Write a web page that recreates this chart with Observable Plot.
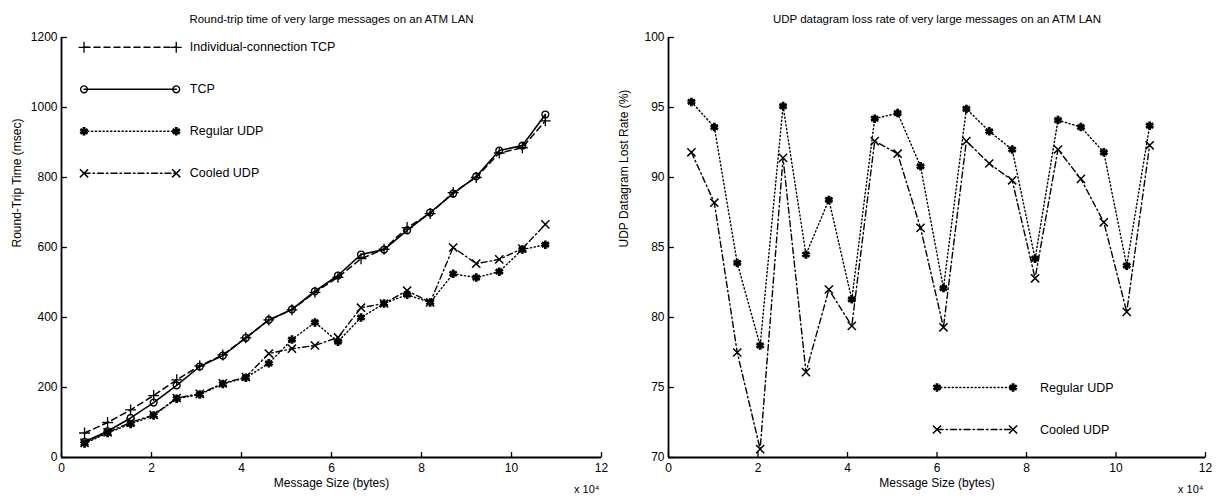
<!DOCTYPE html>
<html><head><meta charset="utf-8">
<script src="https://cdn.jsdelivr.net/npm/d3@7"></script>
<script src="https://cdn.jsdelivr.net/npm/@observablehq/plot@0.6"></script>
<style>
body{margin:0;background:#fff;font-family:"Liberation Sans",Arial,sans-serif;}
#wrap{position:relative;width:1219px;height:500px;overflow:hidden;}
.panel{position:absolute;top:0;}
svg{font-family:"Liberation Sans",Arial,sans-serif;}
</style></head><body><div id="wrap"><div class="panel" id="left" style="left:0"></div><div class="panel" id="right" style="left:609px"></div></div>
<script>
// message sizes (x 10^4 bytes)
const sizes = [0.512, 1.024, 1.536, 2.048, 2.56, 3.072, 3.584, 4.096, 4.608, 5.12, 5.632, 6.144, 6.656, 7.168, 7.68, 8.192, 8.704, 9.216, 9.728, 10.24, 10.752];
// Round-trip time (msec)
const rttIndividualTCP = [70, 100, 136, 177, 222, 262, 293, 342, 393, 422, 472, 515, 568, 595, 657, 697, 757, 800, 870, 885, 962];
const rttTCP = [45, 75, 113, 157, 206, 260, 291, 342, 393, 423, 475, 520, 580, 594, 649, 700, 754, 803, 877, 891, 980];
const rttRegularUDP = [40, 70, 96, 120, 168, 180, 210, 228, 269, 337, 386, 331, 400, 440, 465, 443, 525, 514, 531, 594, 608];
const rttCooledUDP = [42, 72, 100, 122, 170, 182, 212, 230, 297, 311, 320, 343, 428, 440, 477, 443, 600, 554, 566, 597, 666];
// UDP datagram loss rate (%)
const lossRegularUDP = [95.4, 93.6, 83.9, 78.0, 95.1, 84.5, 88.4, 81.3, 94.2, 94.6, 90.8, 82.1, 94.9, 93.3, 92.0, 84.2, 94.1, 93.6, 91.8, 83.7, 93.7];
const lossCooledUDP = [91.8, 88.2, 77.5, 70.6, 91.4, 76.1, 82.0, 79.4, 92.6, 91.7, 86.4, 79.3, 92.6, 91.0, 89.8, 82.8, 92.0, 89.9, 86.8, 80.4, 92.3];
// ticks
const xTicks = [0, 2, 4, 6, 8, 10, 12];
const yTicksRTT = [0, 200, 400, 600, 800, 1000, 1200];
const yTicksLoss = [70, 75, 80, 85, 90, 95, 100];
// labels
const titleRTT = "Round-trip time of very large messages on an ATM LAN";
const titleLoss = "UDP datagram loss rate of very large messages on an ATM LAN";
const xLabel = "Message Size (bytes)";
const yLabelRTT = "Round-Trip Time (msec)";
const yLabelLoss = "UDP Datagram Lost Rate (%)";
const xExponent = "x 10\u2074";

const styles = {
  "Individual-connection TCP": {dash: "6,4", symbol: "plus", r: 3.6, sw: 1.3, fill: "none"},
  "TCP": {dash: null, symbol: "circle", r: 3.4, sw: 1.4, fill: "none"},
  "Regular UDP": {dash: "1.2,2.6", symbol: "asterisk", r: 4, sw: 2.8, fill: "none"},
  "Cooled UDP": {dash: "6,3,1.5,3", symbol: "times", r: 3.8, sw: 1.5, fill: "none"}
};

function seriesMarks(name, values, lineW) {
  const s = styles[name];
  const d = sizes.map((x, i) => ({x, y: values[i]}));
  return [
    Plot.line(d, {x: "x", y: "y", stroke: "black", strokeWidth: lineW, strokeDasharray: s.dash}),
    Plot.dot(d, {x: "x", y: "y", symbol: () => s.symbol, r: s.r, stroke: "black", strokeWidth: s.sw, fill: s.fill})
  ];
}

function legendMarks(names, rowY, x1, x2, xt, lineW) {
  const out = [];
  names.forEach((name, i) => {
    const s = styles[name];
    const y = rowY(i);
    const seg = [{x: x1, y}, {x: x2, y}];
    out.push(Plot.line(seg, {x: "x", y: "y", stroke: "black", strokeWidth: lineW, strokeDasharray: s.dash}));
    out.push(Plot.dot(seg, {x: "x", y: "y", symbol: () => s.symbol, r: s.r, stroke: "black", strokeWidth: s.sw, fill: s.fill}));
    out.push(Plot.text([name], {x: xt, y, textAnchor: "start", fontSize: 12.5, fill: "black"}));
  });
  return out;
}

function frameAxes(xDomain, yDomain, yTicks, title, yLabel) {
  const xLen = (xDomain[1] - xDomain[0]) * 0.01;
  const yLen = (yDomain[1] - yDomain[0]) * 0.013;
  return [
    Plot.axisX({ticks: xTicks, tickSize: 0, tickPadding: 6, fontSize: 12, label: null, tickFormat: "d"}),
    Plot.axisY({ticks: yTicks, tickSize: 0, tickPadding: 4, fontSize: 12, label: null, tickFormat: "d"}),
    Plot.link(xTicks, {x1: d => d, x2: d => d, y1: yDomain[0], y2: yDomain[0] + yLen, stroke: "black", strokeWidth: 1.3}),
    Plot.link(yTicks, {y1: d => d, y2: d => d, x1: xDomain[0], x2: xDomain[0] + xLen, stroke: "black", strokeWidth: 1.3}),
    Plot.ruleX([xDomain[0]], {stroke: "black", strokeWidth: 1.8}),
    Plot.ruleY([yDomain[0]], {stroke: "black", strokeWidth: 1.8}),
    Plot.text([title], {frameAnchor: "top", dy: -23, fontSize: 11.5, fill: "black"}),
    Plot.text([xLabel], {frameAnchor: "bottom", dy: 29, fontSize: 12, fill: "black"}),
    Plot.text([xExponent], {frameAnchor: "bottom-right", dy: 35, dx: -2, textAnchor: "end", fontSize: 11, fill: "black"}),
    Plot.text([yLabel], {frameAnchor: "left", rotate: -90, dx: -44, fontSize: 12, fill: "black"})
  ];
}

const left = Plot.plot({
  width: 609, height: 500,
  marginLeft: 61, marginRight: 8, marginTop: 37, marginBottom: 43,
  x: {domain: [0, 12]},
  y: {domain: [0, 1200]},
  marks: [
    ...frameAxes([0, 12], [0, 1200], yTicksRTT, titleRTT, yLabelRTT),
    ...seriesMarks("Individual-connection TCP", rttIndividualTCP, 1.5),
    ...seriesMarks("TCP", rttTCP, 1.6),
    ...seriesMarks("Regular UDP", rttRegularUDP, 1.4),
    ...seriesMarks("Cooled UDP", rttCooledUDP, 1.4),
    ...legendMarks(["Individual-connection TCP", "TCP", "Regular UDP", "Cooled UDP"], i => 1172 - i * 120, 0.5, 2.55, 2.85, 1.5)
  ]
});
document.getElementById("left").appendChild(left);

const right = Plot.plot({
  width: 610, height: 500,
  marginLeft: 59, marginRight: 14, marginTop: 37, marginBottom: 43,
  x: {domain: [0, 12]},
  y: {domain: [70, 100]},
  marks: [
    ...frameAxes([0, 12], [70, 100], yTicksLoss, titleLoss, yLabelLoss),
    ...seriesMarks("Regular UDP", lossRegularUDP, 1.4),
    ...seriesMarks("Cooled UDP", lossCooledUDP, 1.4),
    ...legendMarks(["Regular UDP", "Cooled UDP"], i => 75 - i * 3, 6.0, 7.7, 8.3, 1.4)
  ]
});
document.getElementById("right").appendChild(right);
</script></body></html>
